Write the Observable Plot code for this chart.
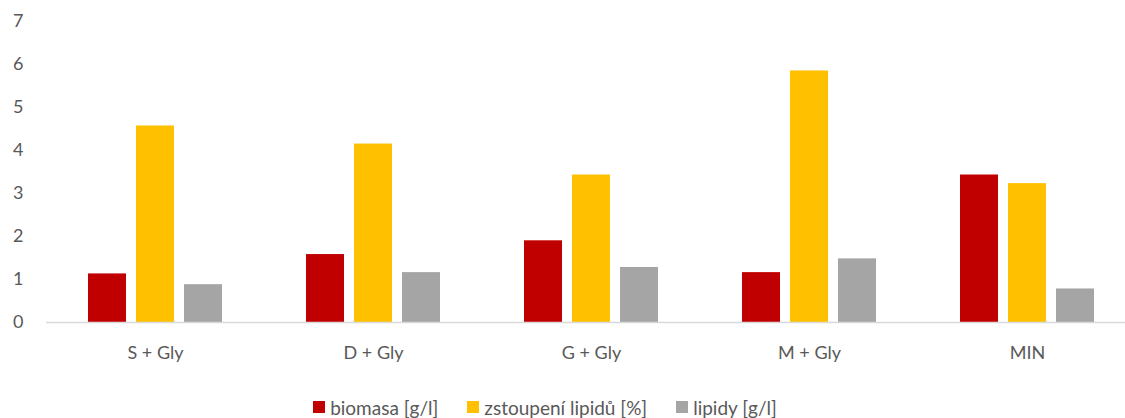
<!DOCTYPE html>
<html>
<head>
<meta charset="utf-8">
<script src="https://cdn.jsdelivr.net/npm/d3@7"></script>
<script src="https://cdn.jsdelivr.net/npm/@observablehq/plot@0.6"></script>
<style>
  html, body { margin: 0; padding: 0; background: #fff; overflow: hidden; }
  #wrap { width: 1125px; overflow: hidden; }
  #chart svg { max-width: none !important; display: block; }
  .legend { display: flex; justify-content: center; align-items: center; gap: 29px;
    font-family: Lato, "Open Sans", sans-serif; font-size: 19px; color: #595959;
    height: 34px; width: 1090px; }
  .legend span.item { display: flex; align-items: center; gap: 5px; }
  .legend i { display: inline-block; width: 12px; height: 12px; }
</style>
</head>
<body>
<div id="wrap"><div id="chart"></div></div>
<script>
const categories = ["S + Gly", "D + Gly", "G + Gly", "M + Gly", "MIN"];
const seriesNames = ["biomasa [g/l]", "zstoupení lipidů [%]", "lipidy [g/l]"];
const seriesColors = ["#C00000", "#FFC000", "#A5A5A5"];
const biomasa = [1.13, 1.58, 1.90, 1.16, 3.43];
const zstoupeni = [4.57, 4.15, 3.43, 5.85, 3.23];
const lipidy = [0.88, 1.16, 1.28, 1.48, 0.78];
const yTicks = [0, 1, 2, 3, 4, 5, 6, 7];

const seriesValues = [biomasa, zstoupeni, lipidy];
const data = [];
categories.forEach((c, i) => {
  seriesNames.forEach((s, j) => data.push({category: c, series: s, value: seriesValues[j][i]}));
});

const chart = Plot.plot({
  width: 1136,
  height: 390,
  marginTop: 21,
  marginBottom: 68,
  marginLeft: 45,
  marginRight: 0,
  style: {fontFamily: "Lato, 'Open Sans', sans-serif", fontSize: "18px", color: "#595959", background: "#fff", maxWidth: "none"},
  fx: {domain: categories, padding: 0, axis: "bottom", label: null, tickSize: 0, tickPadding: 24},
  x: {domain: seriesNames, axis: null, paddingInner: 0.2165, paddingOuter: 0.8557},
  y: {domain: [0, 7], ticks: yTicks, tickSize: 0, tickPadding: 23, label: null, tickFormat: d3.format("d")},
  color: {domain: seriesNames, range: seriesColors},
  marks: [
    Plot.barY(data, {fx: "category", x: "series", y: "value", fill: "series", insetLeft: 0, insetRight: 0}),
    Plot.ruleY([0], {stroke: "#D9D9D9", strokeWidth: 1.5})
  ]
});
document.getElementById("chart").appendChild(chart);

const legend = document.createElement("div");
legend.className = "legend";
seriesNames.forEach((s, j) => {
  const item = document.createElement("span");
  item.className = "item";
  const sw = document.createElement("i");
  sw.style.background = seriesColors[j];
  item.appendChild(sw);
  item.appendChild(document.createTextNode(s));
  legend.appendChild(item);
});
document.getElementById("wrap").appendChild(legend);
</script>
</body>
</html>
